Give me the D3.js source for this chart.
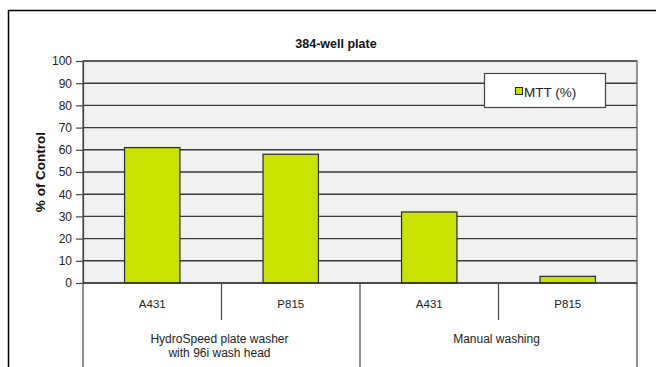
<!DOCTYPE html>
<html>
<head>
<meta charset="utf-8">
<script src="https://cdn.jsdelivr.net/npm/d3@7"></script>
<style>
  html, body { margin: 0; padding: 0; background: #fff; }
  svg { display: block; font-family: "Liberation Sans", Arial, sans-serif; }
</style>
</head>
<body>
<svg id="chart" width="656" height="367"></svg>
<script>
// Cell lines tested, grouped by washing method
const cellLines = ["A431", "P815", "A431", "P815"];
const groups = ["HydroSpeed plate washer|with 96i wash head", "Manual washing"];
const groupSizes = [2, 2];
const mttValues = [61, 58, 32, 3];
const yTicks = [0, 10, 20, 30, 40, 50, 60, 70, 80, 90, 100];
const seriesName = "MTT (%)";
const chartTitle = "384-well plate";
const yTitle = "% of Control";

const W = 656, H = 367;
const margin = { left: 83, right: 19, top: 61, bottom: 84 };
const plotW = W - margin.left - margin.right;
const plotH = H - margin.top - margin.bottom;

const svg = d3.select("#chart");

// outer frame of the chart object
svg.append("rect")
  .attr("x", 8.5).attr("y", 10.5)
  .attr("width", W).attr("height", H)
  .attr("fill", "#fff").attr("stroke", "#000").attr("stroke-width", 1.5);

const g = svg.append("g").attr("transform", `translate(${margin.left},${margin.top})`);

const idx = cellLines.map((d, i) => i);
const x = d3.scaleBand().domain(idx).range([0, plotW]).paddingInner(0.6).paddingOuter(0.3);
const step = x.step();
const y = d3.scaleLinear().domain([0, 100]).range([plotH, 0]);

// plot area background
g.append("rect")
  .attr("width", plotW).attr("height", plotH)
  .attr("fill", "#f0f0f0");

// horizontal gridlines
g.append("g").selectAll("line").data(yTicks.filter(d => d > 0)).join("line")
  .attr("x1", 0).attr("x2", plotW)
  .attr("y1", d => y(d)).attr("y2", d => y(d))
  .attr("stroke", "#3a3a3a").attr("stroke-width", 1.4);

// bars
g.append("g").selectAll("rect").data(mttValues).join("rect")
  .attr("x", (d, i) => x(i))
  .attr("width", x.bandwidth())
  .attr("y", d => y(d))
  .attr("height", d => y(0) - y(d))
  .attr("fill", "#c9e200")
  .attr("stroke", "#2a2a2a").attr("stroke-width", 1.2);

// plot area border
g.append("rect")
  .attr("width", plotW).attr("height", plotH)
  .attr("fill", "none").attr("stroke", "#555").attr("stroke-width", 1.2);

// y axis
const yAxis = d3.axisLeft(y).tickValues(yTicks).tickSize(7).tickPadding(4);
const ya = g.append("g").call(yAxis);
ya.select(".domain").attr("stroke", "#444").attr("stroke-width", 1.2);
ya.selectAll(".tick line").attr("stroke", "#444").attr("stroke-width", 1.2);
ya.selectAll(".tick text")
  .attr("font-size", 12).attr("fill", "#222")
  .attr("font-family", "'Liberation Sans', Arial, sans-serif");

// x axis baseline
g.append("line")
  .attr("x1", 0).attr("x2", plotW)
  .attr("y1", y(0)).attr("y2", y(0))
  .attr("stroke", "#333").attr("stroke-width", 1.4);

// multi-level category axis: dividers between cell lines and between groups
const groupBounds = [0];
groupSizes.forEach(s => groupBounds.push(groupBounds[groupBounds.length - 1] + s));
const boundaryX = k => x.range()[0] + k * step;

const longDividers = groupBounds;
const shortDividers = d3.range(0, cellLines.length + 1).filter(k => !groupBounds.includes(k));

g.append("g").selectAll("line").data(longDividers).join("line")
  .attr("x1", k => boundaryX(k)).attr("x2", k => boundaryX(k))
  .attr("y1", plotH).attr("y2", H)
  .attr("stroke", "#444").attr("stroke-width", 1.2);

g.append("g").selectAll("line").data(shortDividers).join("line")
  .attr("x1", k => boundaryX(k)).attr("x2", k => boundaryX(k))
  .attr("y1", plotH).attr("y2", plotH + 37)
  .attr("stroke", "#444").attr("stroke-width", 1.2);

// cell line labels
g.append("g").selectAll("text").data(cellLines).join("text")
  .attr("x", (d, i) => x(i) + x.bandwidth() / 2)
  .attr("y", plotH + 25)
  .attr("text-anchor", "middle")
  .attr("font-size", 11.5).attr("fill", "#222")
  .text(d => d);

// group labels
groups.forEach((lbl, gi) => {
  const cx = (boundaryX(groupBounds[gi]) + boundaryX(groupBounds[gi + 1])) / 2;
  const lines = lbl.split("|");
  const t = g.append("text")
    .attr("text-anchor", "middle")
    .attr("font-size", 12).attr("fill", "#222");
  lines.forEach((ln, li) => {
    t.append("tspan").attr("x", cx - 2).attr("y", plotH + 60 + li * 14).text(ln);
  });
});

// chart title
svg.append("text")
  .attr("x", 336).attr("y", 48)
  .attr("text-anchor", "middle")
  .attr("font-size", 12.5).attr("font-weight", "bold").attr("fill", "#111")
  .text(chartTitle);

// y axis title
svg.append("text")
  .attr("transform", `translate(45,${margin.top + plotH / 2}) rotate(-90)`)
  .attr("text-anchor", "middle")
  .attr("font-size", 13.5).attr("font-weight", "bold").attr("fill", "#111")
  .text(yTitle);

// legend
const lg = svg.append("g").attr("transform", "translate(484.5,73.5)");
lg.append("rect")
  .attr("width", 121).attr("height", 34)
  .attr("fill", "#fff").attr("stroke", "#444").attr("stroke-width", 1.2);
lg.append("rect")
  .attr("x", 31).attr("y", 14).attr("width", 7).attr("height", 7)
  .attr("fill", "#c9e200").attr("stroke", "#2a2a2a").attr("stroke-width", 1);
lg.append("text")
  .attr("x", 39.5).attr("y", 23)
  .attr("font-size", 13.5).attr("fill", "#222")
  .text(seriesName);
</script>
</body>
</html>
